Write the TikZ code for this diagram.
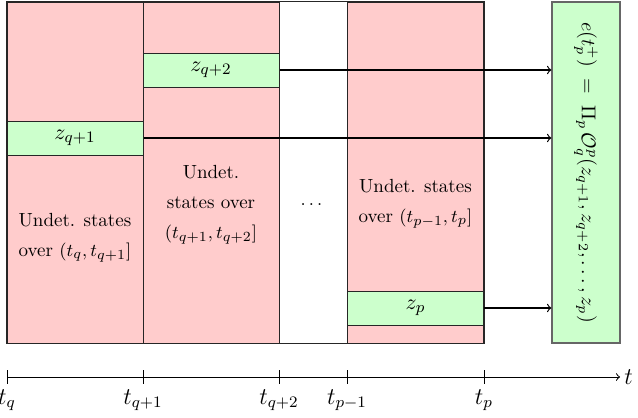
\documentclass[tikz,border=0pt]{standalone}
\usepackage{amsmath}
\begin{document}
\begin{tikzpicture}[x=0.5pt,y=-0.5pt,
  every node/.style={font=\fontsize{9.5}{15}\selectfont},
  undet/.style={draw=black!85,fill=red!20,line width=0.5pt,minimum width=68pt,minimum height=170.5pt,inner sep=0pt},
  zbox/.style={draw=black!85,fill=green!20,line width=0.5pt,minimum width=68pt,minimum height=17pt,inner sep=0pt,font=\fontsize{11}{13}\selectfont},
  ebox/.style={draw=black!60,fill=green!20,line width=0.6pt,minimum width=34pt,minimum height=170.5pt,inner sep=0pt},
  conn/.style={->,line width=0.6pt},
  lbl/.style={align=center,inner sep=0pt}]
\useasboundingbox (0,0) rectangle (638,418);
% columns
\node[undet] (c1) at (75,172.5) {};
\node[undet] (c2) at (211,172.5) {};
\node[undet] (c3) at (415.5,172.5) {};
\draw[black!85,line width=0.5pt] (c1.north west) rectangle (c3.south east);
% state boxes
\node[zbox] (zq1) at (75,138) {$z_{q+1}$};
\node[zbox] (zq2) at (211,70) {$z_{q+2}$};
\node[zbox] (zp) at (415.5,308) {$z_p$};
% texts
\node[lbl] (t1) at (75,238) {Undet. states\\over $(t_q,t_{q+1}]$};
\node[lbl] (t2) at (211,205) {Undet.\\states over\\$(t_{q+1},t_{q+2}]$};
\node[lbl] (t3) at (415.5,204) {Undet. states\\over $(t_{p-1},t_p]$};
\node[lbl] (dots) at (313,205) {$\dots$};
% result box
\node[ebox] (E) at (586,172.5) {};
\node[rotate=-90,inner sep=0pt,font=\fontsize{10}{12}\selectfont] (Et) at (E.center) {$e(t_p^{+})\;=\;\Pi_p\,\mathcal{O}_q^p(z_{q+1},z_{q+2},\dots,z_p)$};
% arrows
\draw[conn] (zq1.east) -- (zq1.east -| E.west);
\draw[conn] (zq2.east) -- (zq2.east -| E.west);
\draw[conn] (zp.east) -- (zp.east -| E.west);
% timeline
\coordinate (a0) at (7,377);
\coordinate (a1) at (620,377);
\draw[->,line width=0.5pt] (a0) -- (a1);
\node[anchor=west,inner sep=2pt,font=\fontsize{11.5}{13}\selectfont] (tl) at (a1) {$t$};
\foreach \x/\n/\l in {7/k0/{t_q},143/k1/{t_{q+1}},279/k2/{t_{q+2}},347/k3/{t_{p-1}},484/k4/{t_p}}{
  \coordinate (\n) at (\x,377);
  \draw[line width=0.5pt] ([yshift=3.5pt]\n) -- ([yshift=-3.5pt]\n);
  \node[anchor=north,inner sep=0pt,font=\fontsize{11.5}{13}\selectfont] at ([yshift=-6pt]\n) {$\l$};
}
\end{tikzpicture}
\end{document}
